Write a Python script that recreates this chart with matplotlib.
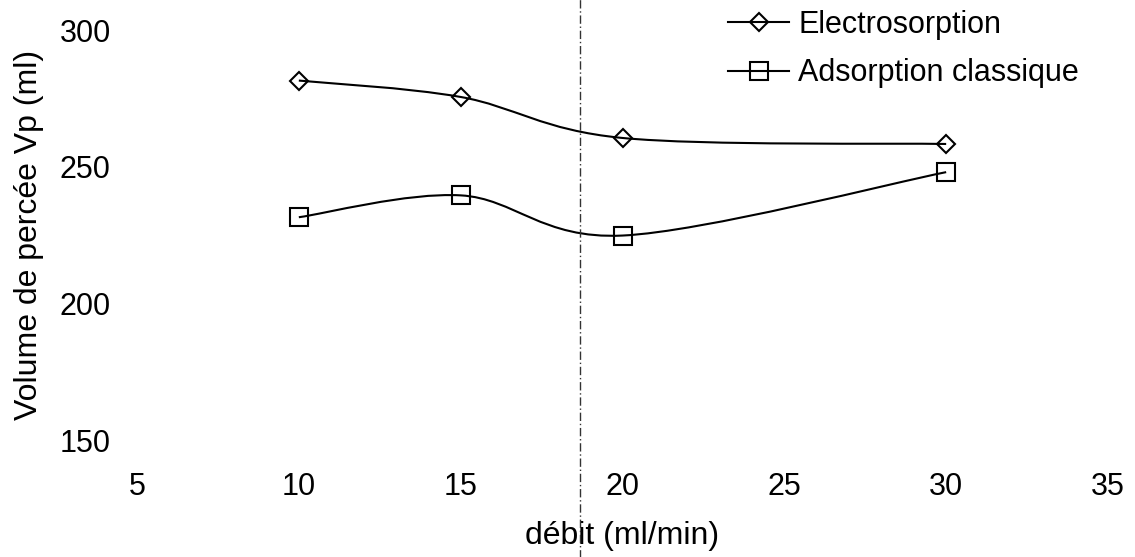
import numpy as np
import matplotlib
matplotlib.use("Agg")
import matplotlib.pyplot as plt
from matplotlib.path import Path
from matplotlib.patches import PathPatch
from matplotlib.lines import Line2D

# flow rate (ml/min) and breakthrough volume (ml)
debit = [10, 15, 20, 30]
vp_electro = [281.5, 275.5, 260.5, 258.3]
vp_classique = [231.5, 239.5, 224.8, 248.0]

labels = ["Electrosorption", "Adsorption classique"]
xticks = [5, 10, 15, 20, 25, 30, 35]
yticks = [150, 200, 250, 300]

plt.rcParams["font.family"] = ["Liberation Sans", "DejaVu Sans"]


def smooth_path(x, y):
    """Cubic Bezier through the points, spreadsheet-style smoothing."""
    pts = np.column_stack([x, y]).astype(float)
    ext = np.vstack([pts[0], pts, pts[-1]])
    verts = [pts[0]]
    codes = [Path.MOVETO]
    for i in range(len(pts) - 1):
        p0, p1, p2, p3 = ext[i], ext[i + 1], ext[i + 2], ext[i + 3]
        c1 = p1 + (p2 - p0) / 6.0
        c2 = p2 - (p3 - p1) / 6.0
        verts += [c1, c2, p2]
        codes += [Path.CURVE4] * 3
    return Path(verts, codes)


fig = plt.figure(figsize=(11.35, 5.57), dpi=100)
ax = fig.add_axes([137 / 1135, 1 - 440 / 557, (1108 - 137) / 1135, 410 / 557])

ax.set_xlim(5, 35)
ax.set_ylim(150, 300)

for yv, marker, ms in [(vp_electro, "D", 9), (vp_classique, "s", 13)]:
    ax.add_patch(PathPatch(smooth_path(debit, yv), fill=False,
                           edgecolor="black", lw=1.5))
    ax.plot(debit, yv, linestyle="none", marker=marker, ms=ms,
            mfc="none", mec="black", mew=1.5)

# dash-dot crease running down the whole sheet
ax.axvline(18.7, ymin=-0.29, ymax=1.08, clip_on=False, color="#333333",
           lw=1.0, ls=(0, (6, 2, 1, 2)))

for s in ax.spines.values():
    s.set_visible(False)
ax.set_xticks(xticks)
ax.set_yticks(yticks)
ax.tick_params(axis="both", length=0, labelsize=22)
ax.tick_params(axis="y", pad=19)
ax.tick_params(axis="x", pad=23)

ax.set_xlabel("débit (ml/min)", fontsize=23, labelpad=14)
ax.set_ylabel("Volume de percée Vp (ml)", fontsize=23, labelpad=11)

handles = [
    Line2D([], [], color="black", lw=1.5, marker="D", ms=9, mfc="none", mew=1.5),
    Line2D([], [], color="black", lw=1.5, marker="s", ms=13, mfc="none", mew=1.5),
]
fig.legend(handles, labels, loc="upper left", bbox_to_anchor=(728 / 1135, 0.982),
           frameon=False, fontsize=22, handlelength=2.0, handletextpad=0.3,
           labelspacing=0.6, borderpad=0, borderaxespad=0)

fig.savefig("out.png", dpi=100, facecolor="white")
